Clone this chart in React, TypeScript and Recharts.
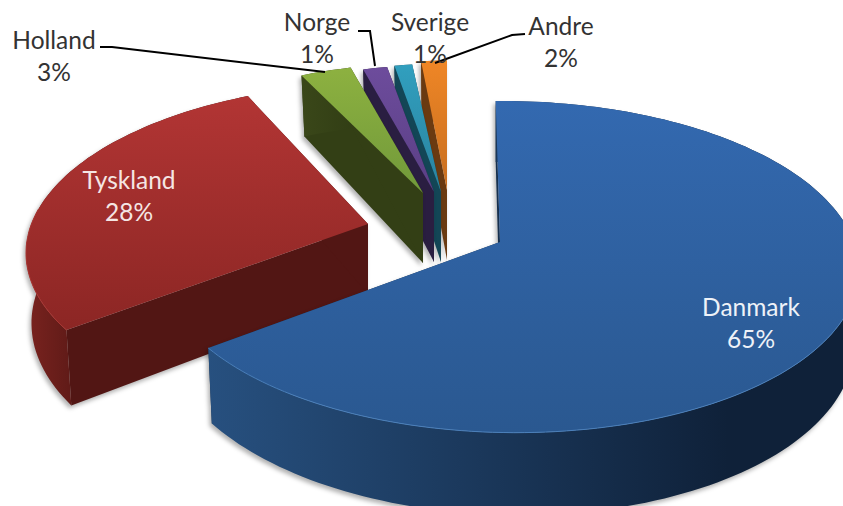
import React from 'react';
import { PieChart, Pie } from 'recharts';

const countries = ['Danmark', 'Tyskland', 'Holland', 'Norge', 'Sverige', 'Andre'];
const shares = [64.6, 28.4, 3, 1.45, 1.05, 1.5];

// drawn last-to-first so Danmark ends up on top of its neighbours
const pieData = countries.map((name, i) => ({ name, value: shares[i] })).reverse();

const FONT = 'Lato, "Open Sans", sans-serif';

// projection of the tilted disc
const RX = 345;
const RY = 162;
const FAR = 0.15;
const SIDE = -0.025;
const DEPTH = 70;

type Look = {
  ax: number; ay: number; scale: number; shear: number; lean: number;
  faceTop: string; faceBottom: string; wallLeft: string; wallRight: string; inner: string; rim: string;
};

const looks: Record<string, Look> = {
  Danmark: { ax: 500, ay: 242, scale: 1, shear: -5, lean: 0.012, faceTop: '#3369b0', faceBottom: '#2a5890', wallLeft: '#27507f', wallRight: '#0f2139', inner: '#16304f', rim: '#4a7fba' },
  Tyskland: { ax: 368, ay: 224, scale: 1, shear: 10, lean: 0.016, faceTop: '#b23534', faceBottom: '#8c2624', wallLeft: '#7a231f', wallRight: '#4c1412', inner: '#521614', rim: '#a83532' },
  Holland: { ax: 423, ay: 193, scale: 0.92, shear: -5, lean: 0.024, faceTop: '#8db140', faceBottom: '#71993a', wallLeft: '#3a4719', wallRight: '#2d3912', inner: '#333f15', rim: '#8db140' },
  Norge: { ax: 434, ay: 192, scale: 0.9, shear: -5, lean: 0.024, faceTop: '#6d4c9c', faceBottom: '#5a3f85', wallLeft: '#2a1e41', wallRight: '#2a1e41', inner: '#2a1e41', rim: '#6d4c9c' },
  Sverige: { ax: 441, ay: 192, scale: 0.91, shear: -4, lean: 0.024, faceTop: '#319fbe', faceBottom: '#2a83a0', wallLeft: '#134656', wallRight: '#134656', inner: '#134656', rim: '#319fbe' },
  Andre: { ax: 447, ay: 190, scale: 0.92, shear: 0, lean: 0.024, faceTop: '#ef8626', faceBottom: '#c76e1f', wallLeft: '#6a3a11', wallRight: '#6a3a11', inner: '#6a3a11', rim: '#ef8626' },
};

type LabelSpot = { x: number; y: number; color: string; leader?: number[][] };

const labelSpots: Record<string, LabelSpot> = {
  Danmark: { x: 751, y: 316, color: '#eef2f8' },
  Tyskland: { x: 129, y: 189, color: '#f5e6e4' },
  Holland: { x: 54, y: 49, color: '#333333', leader: [[100, 47], [112, 47], [325, 72]] },
  Norge: { x: 317, y: 31, color: '#333333', leader: [[358, 31], [370, 31], [375, 66]] },
  Sverige: { x: 430, y: 31, color: '#333333' },
  Andre: { x: 561, y: 35, color: '#333333', leader: [[525, 34], [512, 35], [435, 63]] },
};

const project = (look: Look, t: number, drop = 0) => {
  const r = (t * Math.PI) / 180;
  const s = Math.sin(r);
  const c = Math.cos(r);
  const w = 1 + FAR * c + SIDE * s;
  const x = look.ax + (look.scale * (RX * s + look.shear * c)) / w;
  const y = look.ay + (look.scale * -RY * c) / w;
  // verticals converge a little towards the bottom
  return drop ? { x: x + look.lean * (look.ax - x), y: y + drop / w } : { x, y };
};

const pathOf = (pts: { x: number; y: number }[]) =>
  pts.map((p, i) => `${i ? 'L' : 'M'}${p.x.toFixed(1)},${p.y.toFixed(1)}`).join(' ');

const arcAngles = (from: number, to: number) => {
  const steps = Math.max(4, Math.ceil(Math.abs(to - from) / 1.5));
  const out = [];
  for (let i = 0; i <= steps; i++) out.push(from + ((to - from) * i) / steps);
  return out;
};

const Slice3D = (props: any) => {
  const name = props.name ?? props.payload?.name;
  const look = looks[name];
  if (!look) return null;
  // recharts angles run counter-clockwise from 3 o'clock, we want clockwise from 12
  const angles = arcAngles(90 - props.endAngle, 90 - props.startAngle);
  const apex = { x: look.ax, y: look.ay };
  const apexLow = { x: look.ax, y: look.ay + DEPTH };
  const rimTop = angles.map((t) => project(look, t));
  const rimLow = angles.map((t) => project(look, t, DEPTH));
  const rimFront = angles.filter((t) => Math.cos((t * Math.PI) / 180) < 0.1).map((t) => project(look, t));
  const xs = rimTop.map((p) => p.x);
  const ys = rimTop.map((p) => p.y);
  const key = name.toLowerCase();
  return (
    <g style={{ filter: 'drop-shadow(-2px 3px 2px rgba(0,0,0,0.3))' }}>
      <defs>
        <linearGradient id={`face-${key}`} gradientUnits="userSpaceOnUse" x1="0" x2="0" y1={Math.min(...ys)} y2={Math.max(...ys, look.ay)}>
          <stop offset="0" stopColor={look.faceTop} />
          <stop offset="1" stopColor={look.faceBottom} />
        </linearGradient>
        <linearGradient id={`wall-${key}`} gradientUnits="userSpaceOnUse" y1="0" y2="0" x1={Math.min(...xs)} x2={Math.min(...xs) + (name === 'Danmark' ? 520 : 80)}>
          <stop offset="0" stopColor={look.wallLeft} />
          <stop offset="1" stopColor={look.wallRight} />
        </linearGradient>
      </defs>
      <path d={pathOf([apex, rimTop[0], rimLow[0], apexLow]) + ' Z'} fill={look.inner} />
      <path d={pathOf([apex, rimTop[rimTop.length - 1], rimLow[rimLow.length - 1], apexLow]) + ' Z'} fill={look.inner} />
      <path d={pathOf([...rimTop, ...rimLow.slice().reverse()]) + ' Z'} fill={`url(#wall-${key})`} />
      <path d={pathOf([apex, ...rimTop]) + ' Z'} fill={`url(#face-${key})`} />
      {rimFront.length > 1 && <path d={pathOf(rimFront)} fill="none" stroke={look.rim} strokeWidth={1} />}
    </g>
  );
};

const renderLabel = (props: any) => {
  const spot = labelSpots[props.name];
  if (!spot) return <g />;
  return (
    <g>
      {spot.leader && (
        <polyline
          points={spot.leader.map((p) => p.join(',')).join(' ')}
          fill="none"
          stroke="#000000"
          strokeWidth={2}
        />
      )}
      <text x={spot.x} y={spot.y} textAnchor="middle" fill={spot.color} fontFamily={FONT} fontSize={24.5}>
        {props.name}
      </text>
      <text x={spot.x} y={spot.y + 32} textAnchor="middle" fill={spot.color} fontFamily={FONT} fontSize={24.5}>
        {`${Math.round(props.value)}%`}
      </text>
    </g>
  );
};

const App: React.FC = () => {
  return (
    <div style={{ position: 'absolute', left: 0, top: 0, width: 843, height: 506, overflow: 'hidden', background: '#ffffff' }}>
      <PieChart width={843} height={506} margin={{ top: 0, right: 0, bottom: 0, left: 0 }}>
        <Pie
          data={pieData}
          dataKey="value"
          nameKey="name"
          cx={421}
          cy={253}
          outerRadius={200}
          startAngle={90}
          endAngle={450}
          paddingAngle={0}
          stroke="none"
          shape={Slice3D}
          label={renderLabel}
          labelLine={false}
          isAnimationActive={false}
        />
      </PieChart>
    </div>
  );
};

export default App;
